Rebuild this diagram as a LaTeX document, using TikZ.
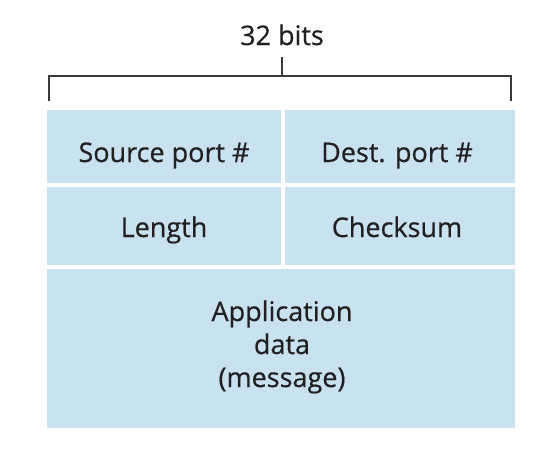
\documentclass[tikz,border=0pt]{standalone}
\usepackage{fontspec}
\setmainfont[FakeBold=0.5]{Open Sans}
\definecolor{cellfill}{HTML}{C9E2EF}
\definecolor{txt}{HTML}{231F20}
\definecolor{brk}{HTML}{3A3A3A}
\begin{document}
\begin{tikzpicture}[x=1pt,y=-1pt,
  cell/.style={fill=cellfill,draw=none},
  lbl/.style={text=txt,font=\fontsize{27}{33}\selectfont,align=center,inner sep=0pt,anchor=base},
  brace/.style={draw=brk,line width=1.3pt}]
\useasboundingbox (0,0) rectangle (538,463);
\fill[cell] (47,110) rectangle (281,183);
\fill[cell] (284.5,110) rectangle (515,183);
\fill[cell] (47,187) rectangle (281,265);
\fill[cell] (284.5,187) rectangle (515,265);
\fill[cell] (47,269) rectangle (515,428);
\node[lbl] (src) at (164,162) {Source port \#};
\node[lbl] (dst) at (397,162) {Dest. port \#};
\node[lbl] (len) at (164,237) {Length};
\node[lbl] (chk) at (397,237) {Checksum};
\node[lbl] (app) at (282,387) {Application\\data\\(message)};
\node[lbl] (bits) at (282,45) {32 bits};
\coordinate (bl) at (49,101);
\coordinate (br) at (511,101);
\coordinate (tk) at (282,57);
\draw[brace] (bl) -- (49,76) -- (511,76) -- (br);
\draw[brace] (282,76) -- (tk);
\end{tikzpicture}
\end{document}
